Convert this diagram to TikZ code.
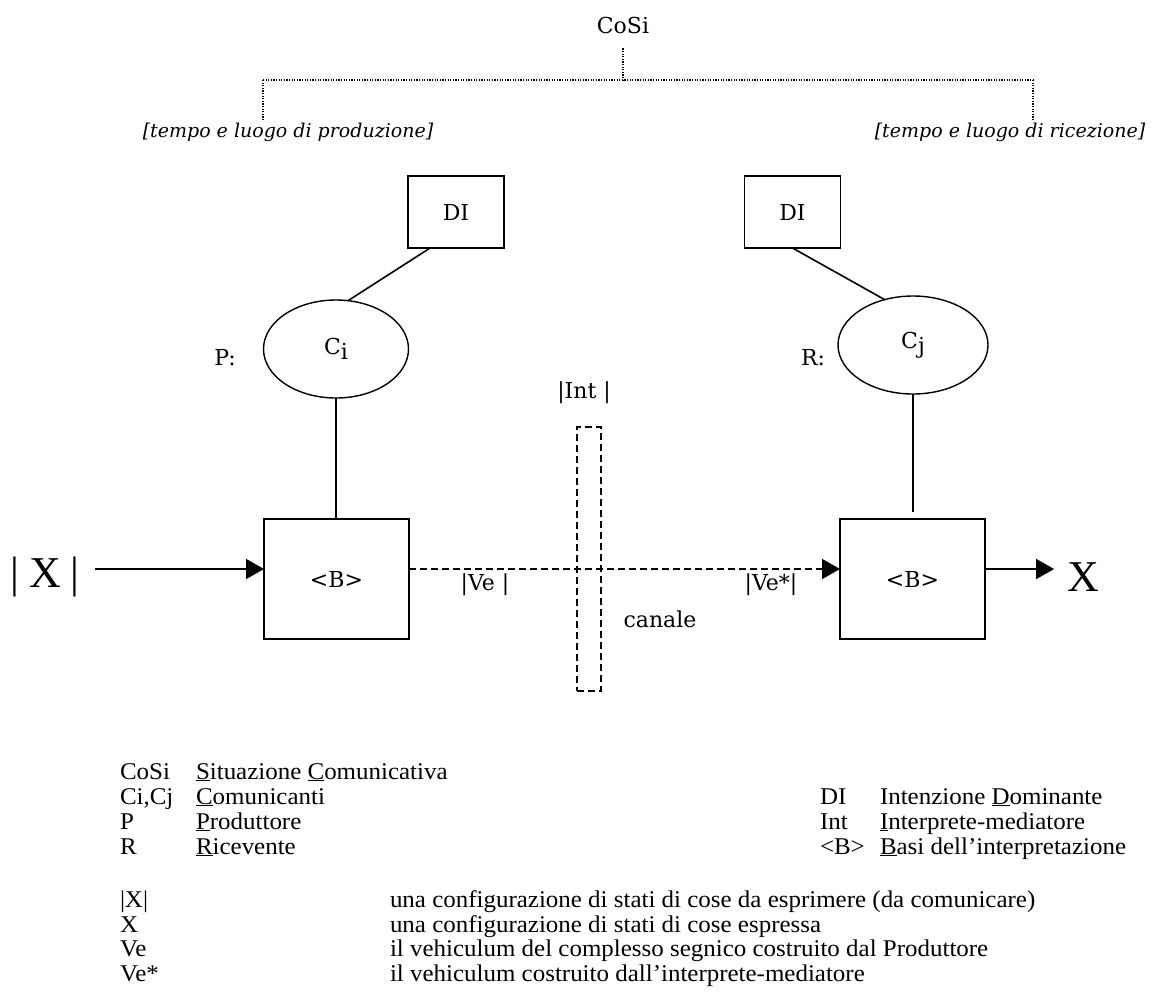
\documentclass[tikz,border=0pt]{standalone}
\usepackage{fontspec}
\setmainfont{Liberation Serif}
\newfontfamily\dfont{DejaVu Serif}
\newfontfamily\legfont[FakeStretch=1.04]{Liberation Serif}
\usetikzlibrary{arrows.meta,shapes.geometric,calc}

\begin{document}
\begin{tikzpicture}[x=1pt,y=-1pt,
  every node/.style={inner sep=0pt, outer sep=0pt},
  dtext/.style={font=\dfont\fontsize{22}{24}\selectfont},
  lab/.style={font=\dfont\itshape\fontsize{19}{21}\selectfont},
  big/.style={font=\fontsize{44}{48}\selectfont},
  solid line/.style={line width=1.6pt},
  dibox/.style={draw, line width=1.6pt, minimum width=96pt, minimum height=72pt, dtext},
  bbox/.style={draw, line width=1.6pt, minimum width=145pt, minimum height=120pt, dtext},
  comm/.style={ellipse, draw, line width=1.4pt, minimum height=98pt, dtext},
  arr/.style={line width=1.6pt, -{Triangle[length=18pt,width=20pt]}},
  dots/.style={line width=1.2pt, dash pattern=on 1.2pt off 1.4pt},
  dashline/.style={line width=1.5pt, dash pattern=on 7pt off 4pt},
  leg/.style={anchor=base west, font=\legfont\fontsize{24}{25}\selectfont}]

\fill[white] (0,0) rectangle (1153,1007);

% communicative situation and its two branches
\node[dtext] (cosi) at (623,25) {CoSi};
\coordinate (hl) at (263,80);
\coordinate (hr) at (1033,80);
\node[lab] (lprod) at (288,132) {[tempo e luogo di produzione]};
\node[lab] (lric) at (1010,132) {[tempo e luogo di ricezione]};
\draw[dots] ($(cosi.south)+(0,15)$) -- (cosi.south |- hl);
\draw[dots] (hl) -- (hr);
\draw[dots] (hl) -- ($(hl |- lprod.north)+(0,-2)$);
\draw[dots] (hr) -- ($(hr |- lric.north)+(0,-2)$);

% dominant intentions
\node[dibox] (dil) at (456,212) {DI};
\node[dibox] (dir) at (792.5,212) {DI};

% communicants
\node[comm, minimum width=145pt] (ci) at (336,349) {C\raisebox{-5pt}{i}};
\node[comm, minimum width=150pt] (cj) at (913,345) {C\raisebox{-5pt}{j}};
\node[dtext] (pl) at (225,358) {P:};
\node[dtext] (rl) at (813,358) {R:};

% bases of interpretation
\node[bbox] (bi) at (336.5,579) {<B>};
\node[bbox] (bj) at (912.5,579) {<B>};

% interpreter / channel
\node[dtext] (intl) at (584,393) {|Int |};
\node[draw, dashline, minimum width=24pt, minimum height=264pt] (intbox) at (589,559) {};
\node[dtext] (ve) at (485,585) {|Ve |};
\node[dtext] (ves) at (771,585) {|Ve*|};
\node[dtext] (can) at (660,619) {canale};

% states of affairs
\node[big] (xin) at (45,577) {|\hspace{10pt}X\hspace{10pt}|};
\node[big] (xout) at (1083,577) {X};

% connectors
\draw[solid line] ($(dil.south west)!0.23!(dil.south east)$) -- (ci.76);
\draw[solid line] (dir.south) -- (cj.122);
\draw[solid line] (ci.south) -- (ci.south |- bi.north);
\draw[solid line, shorten >=7pt] (cj.south) -- (cj.south |- bj.north);

\coordinate (flow) at (95,569);
\draw[arr] (flow) -- (flow -| bi.west);
\draw[arr, dashline] (flow -| bi.east) -- (flow -| bj.west);
\draw[arr] (flow -| bj.east) -- ($(flow -| xout.west)+(-13,0)$);

% legend
\node[leg] (k1) at (120,779) {CoSi};
\node[leg] (v1) at (196,779) {\underline{S}ituazione \underline{C}omunicativa};
\node[leg] (k2) at (120,804) {Ci,Cj};
\node[leg] (v2) at (196,804) {\underline{C}omunicanti};
\node[leg] (k3) at (120,829) {P};
\node[leg] (v3) at (196,829) {\underline{P}roduttore};
\node[leg] (k4) at (120,854) {R};
\node[leg] (v4) at (196,854) {\underline{R}icevente};
\node[leg] (k5) at (820,804) {DI};
\node[leg] (v5) at (880,804) {Intenzione \underline{D}ominante};
\node[leg] (k6) at (820,829) {Int};
\node[leg] (v6) at (880,829) {\underline{I}nterprete-mediatore};
\node[leg] (k7) at (820,854) {<B>};
\node[leg] (v7) at (880,854) {\underline{B}asi dell’interpretazione};

\node[leg] (k8) at (120,907) {|X|};
\node[leg] (v8) at (390,907) {una configurazione di stati di cose da esprimere (da comunicare)};
\node[leg] (k9) at (120,932) {X};
\node[leg] (v9) at (390,932) {una configurazione di stati di cose espressa};
\node[leg] (k10) at (120,956) {Ve};
\node[leg] (v10) at (390,956) {il vehiculum del complesso segnico costruito dal Produttore};
\node[leg] (k11) at (120,981) {Ve*};
\node[leg] (v11) at (390,981) {il vehiculum costruito dall’interprete-mediatore};
\end{tikzpicture}
\end{document}
